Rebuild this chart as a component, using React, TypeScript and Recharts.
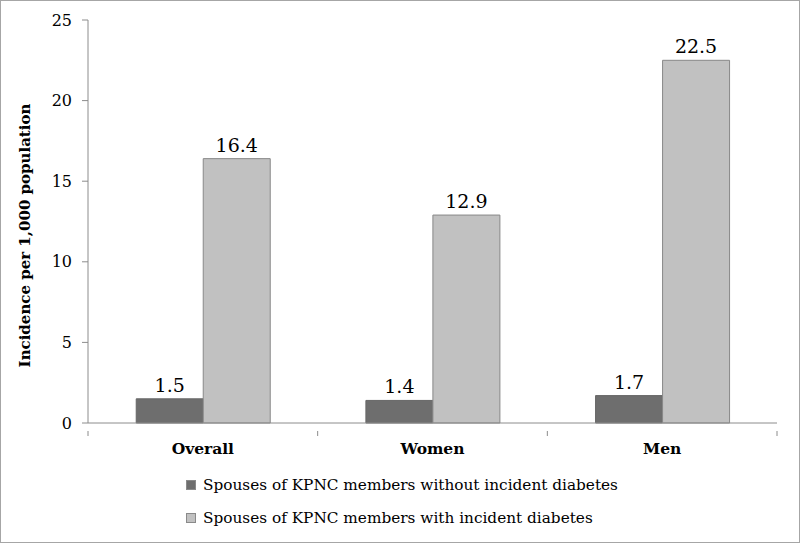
import { BarChart, Bar, XAxis, YAxis, Legend, LabelList } from "recharts";

const categories = ["Overall", "Women", "Men"];
const withoutDiabetes = [1.5, 1.4, 1.7];
const withDiabetes = [16.4, 12.9, 22.5];
const yTicks = [0, 5, 10, 15, 20, 25];

const seriesNames = [
  "Spouses of KPNC members without incident diabetes",
  "Spouses of KPNC members with incident diabetes",
];
const colors = ["#6e6e6e", "#c1c1c1"];

const data = categories.map((c, i) => ({
  name: c,
  without: withoutDiabetes[i],
  with: withDiabetes[i],
}));

const W = 800;
const H = 543;
const margin = { top: 19, right: 22, bottom: 0, left: 0 };
const yWidth = 87;
const band = (W - 2 - margin.left - margin.right - yWidth) / categories.length;

const font = "'DejaVu Serif', serif";

const CatTick = (props: any) => {
  const { x, y, payload, index } = props;
  const left = x - band / 2;
  return (
    <g>
      <line x1={left} y1={y} x2={left} y2={y + 5} stroke="#8c8c8c" />
      {index === categories.length - 1 && (
        <line x1={x + band / 2} y1={y} x2={x + band / 2} y2={y + 5} stroke="#8c8c8c" />
      )}
      <text
        x={x}
        y={y + 23}
        textAnchor="middle"
        fontFamily={font}
        fontWeight="bold"
        fontSize={15.5}
        fill="#000"
      >
        {payload.value}
      </text>
    </g>
  );
};

const YTitle = (props: any) => {
  const vb = props.viewBox || {};
  const cx = 24;
  const cy = vb.y + vb.height / 2 + 14;
  return (
    <text
      x={cx}
      y={cy}
      transform={`rotate(-90 ${cx} ${cy})`}
      textAnchor="middle"
      dominantBaseline="central"
      fontFamily={font}
      fontWeight="bold"
      fontSize={15}
      fill="#000"
    >
      Incidence per 1,000 population
    </text>
  );
};

const LegendBox = () => (
  <div style={{ paddingLeft: 185, fontFamily: font, fontSize: 15.3, color: "#000" }}>
    {seriesNames.map((n, i) => (
      <div key={n} style={{ display: "flex", alignItems: "center", height: 33 }}>
        <span
          style={{
            display: "inline-block",
            width: 10,
            height: 10,
            background: colors[i],
            border: "1px solid #8a8a8a",
            boxSizing: "border-box",
            marginRight: 7,
          }}
        />
        {n}
      </div>
    ))}
  </div>
);

export default function App() {
  return (
    <div
      style={{
        position: "absolute",
        left: 0,
        top: 0,
        width: W,
        height: H,
        border: "1px solid #a6a6a6",
        boxSizing: "border-box",
        background: "#fff",
      }}
    >
      <BarChart
        width={W - 2}
        height={H - 2}
        data={data}
        margin={margin}
        barCategoryGap="21%"
        barGap={0}
      >
        <XAxis
          dataKey="name"
          height={53}
          axisLine={{ stroke: "#8c8c8c" }}
          tickLine={false}
          tick={<CatTick />}
          interval={0}
        />
        <YAxis
          width={yWidth}
          domain={[0, 25]}
          ticks={yTicks}
          interval={0}
          axisLine={{ stroke: "#8c8c8c" }}
          tickLine={{ stroke: "#8c8c8c" }}
          tickSize={6}
          tickMargin={10}
          tick={{ fontFamily: font, fontSize: 16, fill: "#000" }}
          label={<YTitle />}
        />
        <Legend
          content={<LegendBox />}
          verticalAlign="bottom"
          height={66}
          wrapperStyle={{ left: 0, top: 467, bottom: "auto", width: W - 2 }}
        />
        <Bar dataKey="without" fill={colors[0]} stroke="#666" isAnimationActive={false}>
          <LabelList
            dataKey="without"
            position="top"
            offset={7}
            style={{ fontFamily: font, fontSize: 19, fill: "#000" }}
          />
        </Bar>
        <Bar dataKey="with" fill={colors[1]} stroke="#888" isAnimationActive={false}>
          <LabelList
            dataKey="with"
            position="top"
            offset={7}
            style={{ fontFamily: font, fontSize: 19, fill: "#000" }}
          />
        </Bar>
      </BarChart>
    </div>
  );
}
